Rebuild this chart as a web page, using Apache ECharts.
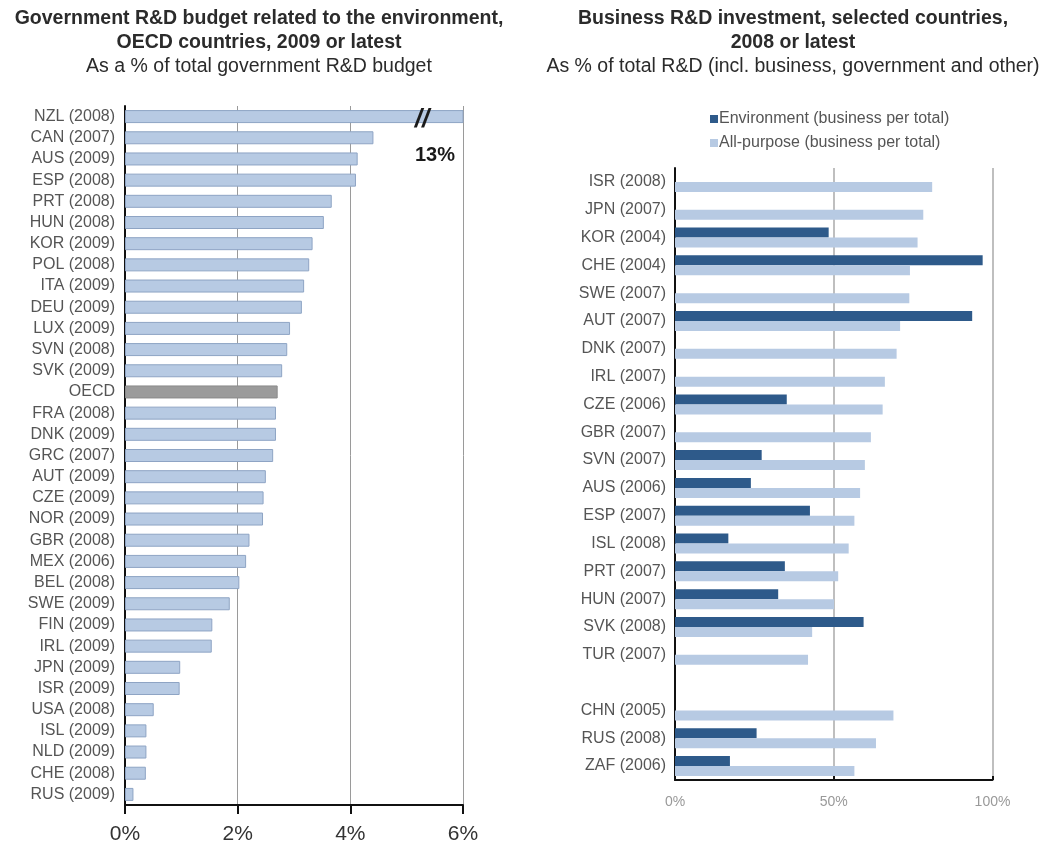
<!DOCTYPE html>
<html>
<head>
<meta charset="utf-8">
<script src="https://cdn.jsdelivr.net/npm/echarts@6/dist/echarts.min.js"></script>
<style>
html,body{margin:0;padding:0;background:#fff;}
#chart{width:1051px;height:845px;}
</style>
</head>
<body>
<div id="chart"></div>
<script>
// ---- Left panel data ----
const govCategories = ['NZL (2008)','CAN (2007)','AUS (2009)','ESP (2008)','PRT (2008)','HUN (2008)','KOR (2009)','POL (2008)','ITA (2009)','DEU (2009)','LUX (2009)','SVN (2008)','SVK (2009)','OECD','FRA (2008)','DNK (2009)','GRC (2007)','AUT (2009)','CZE (2009)','NOR (2009)','GBR (2008)','MEX (2006)','BEL (2008)','SWE (2009)','FIN (2009)','IRL (2009)','JPN (2009)','ISR (2009)','USA (2008)','ISL (2009)','NLD (2009)','CHE (2008)','RUS (2009)'];
const govValues = [13, 4.41, 4.13, 4.10, 3.67, 3.53, 3.33, 3.27, 3.18, 3.14, 2.93, 2.88, 2.79, 2.71, 2.68, 2.68, 2.63, 2.50, 2.46, 2.45, 2.21, 2.15, 2.03, 1.86, 1.55, 1.54, 0.98, 0.97, 0.51, 0.38, 0.38, 0.37, 0.15];
const govTicks = [0, 2, 4, 6];

// ---- Right panel data ----
const busCategories = ['ISR (2008)','JPN (2007)','KOR (2004)','CHE (2004)','SWE (2007)','AUT (2007)','DNK (2007)','IRL (2007)','CZE (2006)','GBR (2007)','SVN (2007)','AUS (2006)','ESP (2007)','ISL (2008)','PRT (2007)','HUN (2007)','SVK (2008)','TUR (2007)','','CHN (2005)','RUS (2008)','ZAF (2006)'];
const envValues = [null, null, 48.4, 96.9, null, 93.6, null, null, 35.2, null, 27.3, 23.9, 42.5, 16.8, 34.6, 32.5, 59.4, null, null, null, 25.7, 17.3];
const allValues = [81.0, 78.2, 76.4, 74.0, 73.8, 70.9, 69.8, 66.1, 65.4, 61.7, 59.8, 58.3, 56.5, 54.7, 51.4, 50.1, 43.2, 41.9, null, 68.8, 63.3, 56.5];
const busTicks = [0, 50, 100];
const seriesNames = ['Environment (business per total)', 'All-purpose (business per total)'];

const FONT = "'Liberation Sans',Arial,sans-serif";
const LIGHT = '#b7cae3';
const DARK = '#2e5a8a';
const TITLE_COLOR = '#2b2b2b';

const chart = echarts.init(document.getElementById('chart'), null, {renderer: 'canvas'});

const govData = govValues.map((v, i) => govCategories[i] === 'OECD'
  ? {value: v, itemStyle: {color: '#9b9b9b', borderColor: '#8a8a8a'}}
  : v);

function titleText(x, y, text, bold) {
  return {type: 'text', x: x, y: y, style: {text: text, font: (bold ? 'bold ' : '') + '19.5px ' + FONT, fill: TITLE_COLOR, align: 'center', verticalAlign: 'middle'}};
}

const option = {
  backgroundColor: '#fff',
  animation: false,
  graphic: [
    titleText(259, 19, 'Government R&D budget related to the environment,', true),
    titleText(259, 43, 'OECD countries, 2009 or latest', true),
    titleText(259, 67, 'As a % of total government R&D budget', false),
    titleText(793, 19, 'Business R&D investment, selected countries,', true),
    titleText(793, 43, '2008 or latest', true),
    titleText(793, 67, 'As % of total R&D (incl. business, government and other)', false),
    {type: 'text', x: 422, y: 120, z: 20, style: {text: '//', font: "italic bold 26px " + FONT, fill: '#1a1a1a', align: 'center', verticalAlign: 'middle'}},
    {type: 'text', x: 435, y: 155, z: 20, style: {text: '13%', font: "bold 20px " + FONT, fill: '#1a1a1a', align: 'center', verticalAlign: 'middle'}}
  ],
  legend: {
    data: seriesNames,
    orient: 'vertical',
    left: 705,
    top: 106,
    itemWidth: 8,
    itemHeight: 8,
    itemGap: 8,
    icon: 'rect',
    textStyle: {fontFamily: FONT, fontSize: 16, color: '#555', padding: [0, 0, 0, -4]}
  },
  grid: [
    {left: 125, top: 106, width: 338, height: 700, containLabel: false},
    {left: 675, top: 168, width: 317.5, height: 612, containLabel: false}
  ],
  xAxis: [
    {
      gridIndex: 0, type: 'value', min: 0, max: 6, interval: 2,
      axisLine: {show: true, lineStyle: {color: '#111', width: 2}},
      axisTick: {show: true, length: 9, lineStyle: {color: '#111', width: 2}},
      splitLine: {show: true, lineStyle: {color: '#9a9a9a', width: 1}},
      axisLabel: {formatter: v => govTicks.includes(v) ? v + '%' : '', fontFamily: FONT, fontSize: 21, color: '#333', margin: 19}
    },
    {
      gridIndex: 1, type: 'value', min: 0, max: 100, interval: 50,
      axisLine: {show: true, lineStyle: {color: '#111', width: 2}},
      axisTick: {show: true, length: 4, inside: true, lineStyle: {color: '#111', width: 2}},
      splitLine: {show: true, lineStyle: {color: '#aaa', width: 1.5}},
      axisLabel: {formatter: v => busTicks.includes(v) ? v + '%' : '', fontFamily: FONT, fontSize: 14, color: '#999', margin: 15}
    }
  ],
  yAxis: [
    {
      gridIndex: 0, type: 'category', data: govCategories, inverse: true,
      axisLine: {show: true, lineStyle: {color: '#111', width: 2}},
      axisTick: {show: false},
      axisLabel: {fontFamily: FONT, fontSize: 16, color: '#555', margin: 10}
    },
    {
      gridIndex: 1, type: 'category', data: busCategories, inverse: true,
      axisLine: {show: true, lineStyle: {color: '#111', width: 2}},
      axisTick: {show: false},
      axisLabel: {fontFamily: FONT, fontSize: 16, color: '#555', margin: 9}
    }
  ],
  series: [
    {
      name: 'gov', type: 'bar', xAxisIndex: 0, yAxisIndex: 0, data: govData,
      barWidth: 13, clip: true,
      itemStyle: {color: LIGHT, borderColor: '#8ea4c4', borderWidth: 1}
    },
    {
      name: seriesNames[0], type: 'bar', xAxisIndex: 1, yAxisIndex: 1, data: envValues,
      barWidth: 10, barGap: '0%', itemStyle: {color: DARK}
    },
    {
      name: seriesNames[1], type: 'bar', xAxisIndex: 1, yAxisIndex: 1, data: allValues,
      barWidth: 10, barGap: '0%', itemStyle: {color: LIGHT}
    }
  ]
};
chart.setOption(option);
</script>
</body>
</html>
